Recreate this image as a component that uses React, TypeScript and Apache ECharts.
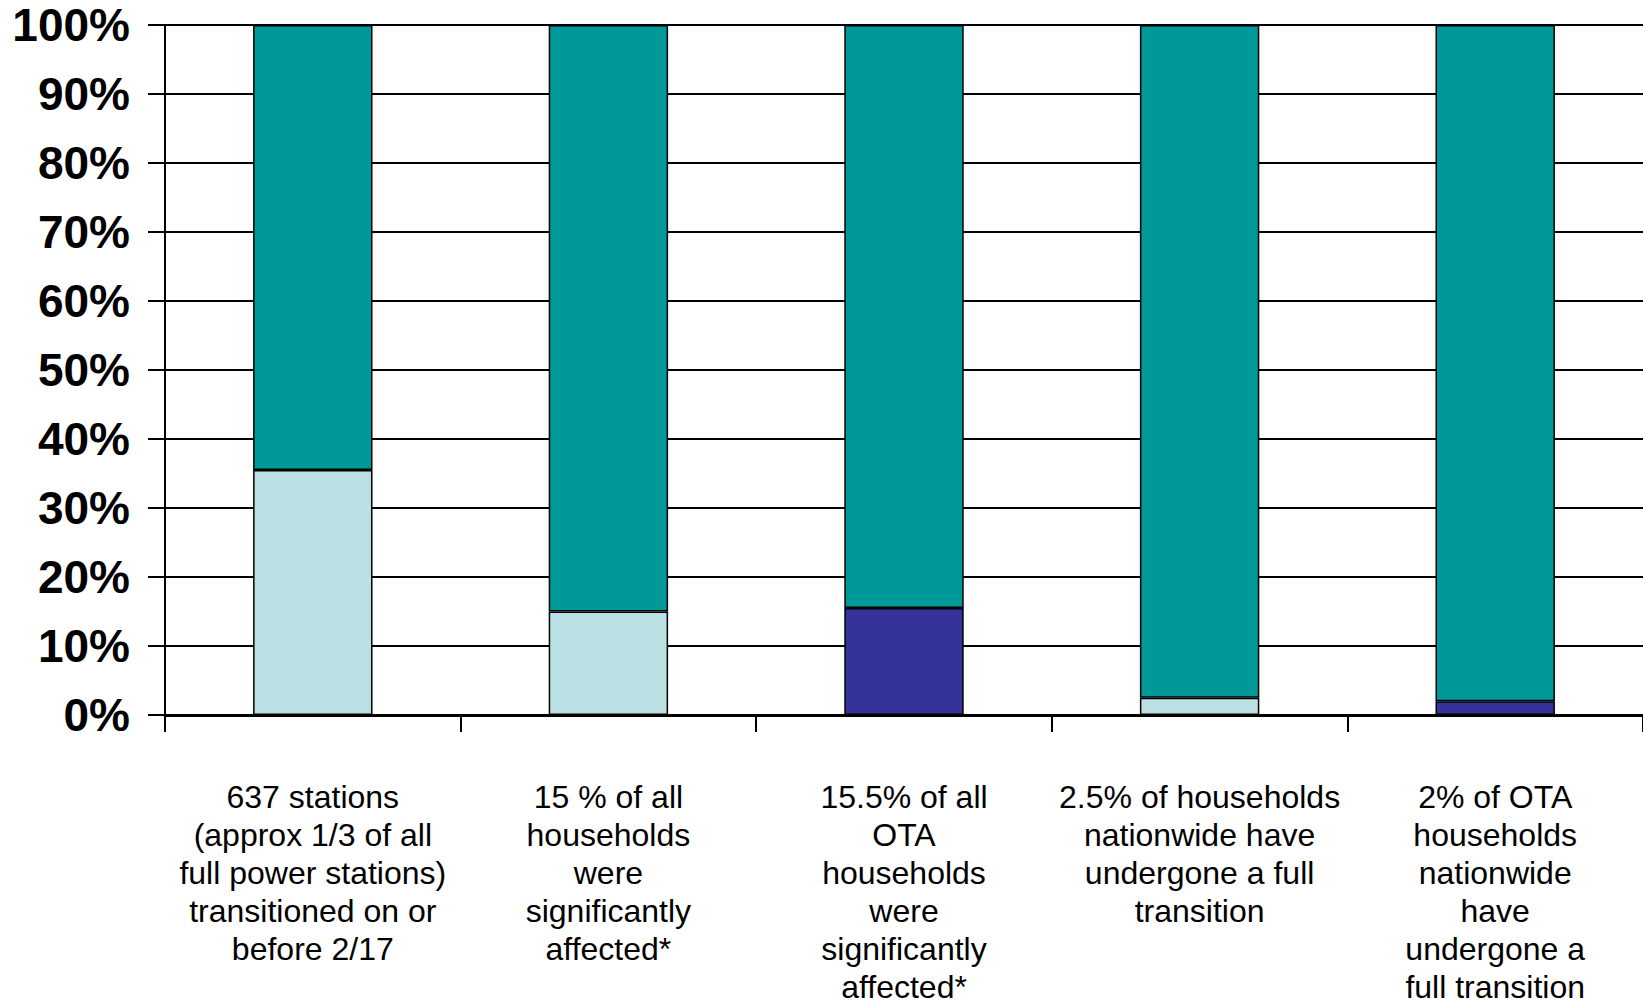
import React, { useEffect, useRef } from "react";
import * as echarts from "echarts";

const categories = [
  "637 stations\n(approx 1/3 of all\nfull power stations)\ntransitioned on or\nbefore 2/17",
  "15 % of all\nhouseholds\nwere\nsignificantly\naffected*",
  "15.5% of all\nOTA\nhouseholds\nwere\nsignificantly\naffected*",
  "2.5% of households\nnationwide have\nundergone a full\ntransition",
  "2% of OTA\nhouseholds\nnationwide\nhave\nundergone a\nfull transition",
];
const lightValues = [35.5, 15, null, 2.5, null];
const navyValues = [null, null, 15.5, null, 2];
const tealValues = [64.5, 85, 84.5, 97.5, 98];
const yTicks = [0, 10, 20, 30, 40, 50, 60, 70, 80, 90, 100];

export default function App() {
  const ref = useRef<HTMLDivElement>(null);
  useEffect(() => {
    if (!ref.current) return;
    const chart = echarts.init(ref.current, null, { renderer: "svg" });
    const barStyle = (color: string) => ({
      color,
      borderColor: "#000",
      borderWidth: 1.5,
    });
    chart.setOption({
      animation: false,
      backgroundColor: "#fff",
      grid: { left: 165, right: -7, top: 25, bottom: 287, containLabel: false },
      xAxis: {
        type: "category",
        data: categories,
        axisLine: { show: true, lineStyle: { color: "#000", width: 3 } },
        axisTick: { show: true, length: 17, lineStyle: { color: "#000", width: 2 } },
        axisLabel: {
          interval: 0,
          margin: 63,
          color: "#000",
          fontFamily: "Liberation Sans, Arial, sans-serif",
          fontSize: 32,
          lineHeight: 38,
          align: "center",
        },
        splitLine: { show: false },
      },
      yAxis: {
        type: "value",
        min: yTicks[0],
        max: yTicks[yTicks.length - 1],
        interval: 10,
        axisLine: { show: true, lineStyle: { color: "#000", width: 2 } },
        axisTick: { show: true, length: 17, lineStyle: { color: "#000", width: 2 } },
        axisLabel: {
          margin: 35,
          formatter: "{value}%",
          color: "#000",
          fontWeight: "bold",
          fontFamily: "Liberation Sans, Arial, sans-serif",
          fontSize: 46,
        },
        splitLine: { show: true, lineStyle: { color: "#000", width: 2 } },
      },
      series: [
        {
          name: "light",
          type: "bar",
          stack: "total",
          barWidth: "40.4%",
          data: lightValues,
          itemStyle: barStyle("#BBE0E3"),
        },
        {
          name: "navy",
          type: "bar",
          stack: "total",
          barWidth: "40.4%",
          data: navyValues,
          itemStyle: barStyle("#333399"),
        },
        {
          name: "teal",
          type: "bar",
          stack: "total",
          barWidth: "40.4%",
          data: tealValues,
          itemStyle: barStyle("#009999"),
        },
      ],
    });
    return () => chart.dispose();
  }, []);
  return (
    <div
      ref={ref}
      style={{ position: "absolute", left: 0, top: 0, width: 1643, height: 1006, overflow: "hidden" }}
    />
  );
}
